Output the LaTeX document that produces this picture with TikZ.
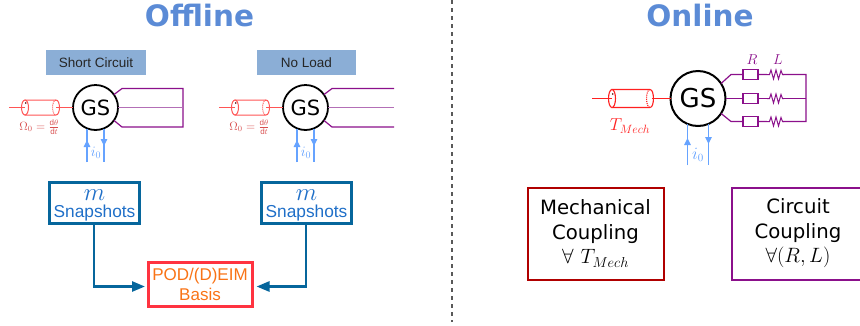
\documentclass[tikz,border=0pt]{standalone}
\usepackage{fontspec}
\usepackage{amsmath}
\setmainfont{Liberation Sans}
\newfontfamily\dejavu{DejaVu Sans}
\usetikzlibrary{arrows.meta}
\definecolor{titleblue}{HTML}{5B8BD6}
\definecolor{labelfill}{HTML}{8BAED6}
\definecolor{currentblue}{HTML}{66A3FF}
\definecolor{cablepurple}{HTML}{8B108B}
\definecolor{midpurple}{HTML}{B36FB6}
\definecolor{shaftred}{HTML}{FF2020}
\definecolor{shaftsoft}{HTML}{FF5555}
\definecolor{omegared}{HTML}{D85050}
\definecolor{boxblue}{HTML}{06669C}
\definecolor{snaptext}{HTML}{1F6FC8}
\definecolor{podred}{HTML}{FF3340}
\definecolor{podorange}{HTML}{F97316}
\definecolor{mechred}{HTML}{B00000}
\tikzset{
  x=1pt,y=-1pt,
  titletext/.style={font=\dejavu\bfseries\fontsize{29.5}{34}\selectfont,text=titleblue,inner sep=0pt,anchor=base},
  casetag/.style={fill=labelfill,minimum width=100pt,minimum height=25pt,inner sep=0pt,font=\fontsize{13.5}{16}\selectfont,text=black!85},
  gssmall/.style={circle,draw=black,line width=1.8pt,minimum size=45pt,inner sep=0pt,outer sep=0pt,fill=white,font=\dejavu\fontsize{21}{24}\selectfont},
  gslarge/.style={circle,draw=black,line width=2pt,minimum size=55pt,inner sep=0pt,outer sep=0pt,fill=white,font=\dejavu\fontsize{26}{30}\selectfont},
  shaft/.style={draw=shaftsoft,line width=1pt},
  shaftstrong/.style={draw=shaftred,line width=1.1pt},
  cable/.style={draw=cablepurple,line width=1.2pt,line join=miter},
  midcable/.style={draw=midpurple,line width=1.6pt},
  currentline/.style={draw=currentblue,line width=1.5pt},
  current/.style={draw=currentblue,line width=1.5pt,-{Triangle[length=7pt,width=6.5pt]}},
  snapbox/.style={draw=boxblue,line width=3pt,minimum width=90pt,minimum height=41pt,inner sep=0pt},
  snapm/.style={text=snaptext,inner sep=0pt,font=\fontsize{30}{30}\selectfont},
  snaptxt/.style={text=snaptext,inner sep=0pt,font=\fontsize{17.3}{17}\selectfont},
  podbox/.style={draw=podred,line width=3pt,minimum width=104pt,minimum height=43.5pt,inner sep=0pt,align=center,text=podorange,font=\fontsize{17}{19.5}\selectfont},
  flow/.style={draw=boxblue,line width=2.6pt,-{Triangle[length=13pt,width=10pt]}},
  couplebox/.style={line width=2pt,inner sep=0pt,align=center,font=\dejavu\fontsize{19.7}{25}\selectfont,text=black},
  resbox/.style={draw=cablepurple,line width=1.2pt,minimum width=15pt,minimum height=10pt,inner sep=0pt,fill=white},
}
\newcommand{\cyl}[5]{% style, left x, right x, centre y, half height
  \draw[#1,fill=white] (#2,#4-#5) -- (#3,#4-#5) .. controls (#3+4.6,#4-#5) and (#3+4.6,#4+#5) .. (#3,#4+#5) -- (#2,#4+#5) -- cycle;
  \draw[#1,densely dotted] (#3,#4-#5) .. controls (#3-4.6,#4-#5) and (#3-4.6,#4+#5) .. (#3,#4+#5);
  \draw[#1,fill=white] (#2,#4) ellipse[x radius=3.5,y radius=#5];
  \fill[black!70!red] (#2+0.8,#4-4.5) circle[radius=0.9];
}
\begin{document}
\begin{tikzpicture}
\useasboundingbox (0,0) rectangle (860,325);
\node[titletext] (toff) at (199.5,26) {Offline};
\node[titletext] (ton) at (700,26) {Online};
\coordinate (divtop) at (452,0);
\coordinate (divbot) at (452,322);
\draw[black!65,line width=1.1pt,dash pattern=on 3.5pt off 4.5pt] (divtop) -- (divbot);

% --- left machines
\node[casetag] (tagA) at (96,62.5) {Short Circuit};
\node[casetag,minimum width=99pt] (tagB) at (306.5,62.5) {No Load};
\foreach \dx/\nm in {0/A,210/B}{
  \begin{scope}[xshift=\dx pt]
    \coordinate (sh\nm) at (9,107.5);
    \coordinate (sl\nm) at (25,107.5);
    \coordinate (sr\nm) at (56,107.5);
    \cyl{shaft}{25}{56}{107.5}{7.5}
    \node[gssmall] (gs\nm) at (95.5,107.5) {GS};
    \draw[shaft] (sh\nm) -- (sl\nm);
    \draw[shaft] (sr\nm) -- (gs\nm.west);
    \node[text=omegared,inner sep=0pt,font=\fontsize{12}{12}\selectfont] (om\nm) at (39.5,127) {$\Omega_0=\frac{\mathrm{d}\theta}{\mathrm{d}t}$};
    \coordinate (ib\nm) at (87,162);
    \coordinate (it\nm) at (104,162);
    \draw[currentline] (ib\nm) -- (87,129);
    \draw[current] (ib\nm) -- (87,140);
    \draw[currentline] (104,129) -- (it\nm);
    \draw[current] (104,129) -- (104,146);
    \node[text=currentblue,inner sep=0pt,font=\fontsize{14}{14}\selectfont] (iz\nm) at (96,153) {$i_0$};
  \end{scope}
}
% purple leads
\coordinate (a1) at (122,88.5);\coordinate (a2) at (183,88.5);
\coordinate (a3) at (122,127);\coordinate (a4) at (183,127);
\coordinate (a5) at (183,107.5);
\draw[cable] (gsA.35) -- (a1) -- (a2) -- (a4) -- (a3) -- (gsA.-35);
\draw[midcable] (gsA.east) -- (a5);
\coordinate (b1) at (332,88.5);\coordinate (b2) at (394,88.5);
\coordinate (b3) at (332,127);\coordinate (b4) at (394,127);
\coordinate (b5) at (394,107.5);
\draw[cable] (gsB.35) -- (b1) -- (b2);
\draw[cable] (gsB.-35) -- (b3) -- (b4);
\draw[midcable] (gsB.east) -- (b5);

% --- snapshots
\node[snapbox] (snapA) at (94,202.5) {};
\node[snapbox] (snapB) at (306,202.5) {};
\node[snapm] (mA) at (94.5,195) {$m$};
\node[snapm] (mB) at (306.5,195) {$m$};
\node[snaptxt] (txA) at (94.5,213) {Snapshots};
\node[snaptxt] (txB) at (306.5,213) {Snapshots};
\node[podbox] (pod) at (200,284.5) {POD/(D)EIM\\Basis};
\coordinate (podL) at (145,286.5);
\coordinate (podR) at (256.5,286.5);
\draw[flow] (snapA.south) |- (podL);
\draw[flow] (snapB.south) |- (podR);

% --- online machine
\coordinate (sh) at (592,98.5);
\coordinate (sl) at (612,98.5);
\coordinate (sr) at (652,98.5);
\cyl{shaftstrong}{612}{650}{98.5}{9}
\node[gslarge] (gs) at (698,98.5) {GS};
\draw[shaftstrong] (sh) -- (sl);
\draw[shaftstrong] (sr) -- (gs.west);
\node[text=shaftred,inner sep=0pt,font=\fontsize{18.5}{18}\selectfont] (tm) at (630,126) {$T_{Mech}$};
\coordinate (ib) at (687.5,165);
\coordinate (it) at (708.5,165);
\draw[currentline] (ib) -- (687.5,124);
\draw[current] (ib) -- (687.5,138);
\draw[currentline] (708.5,124) -- (it);
\draw[current] (708.5,124) -- (708.5,144);
\node[text=currentblue,inner sep=0pt,font=\fontsize{16}{16}\selectfont] (iz) at (698,155) {$i_0$};

\coordinate (nt) at (731,74.5);
\coordinate (nb) at (731,121.5);
\coordinate (endt) at (806,74.5);
\coordinate (endm) at (806,98.5);
\coordinate (endb) at (806,121.5);
\draw[cable] (gs.33) -- (nt) -- (endt) -- (endb) -- (nb) -- (gs.-33);
\draw[cable] (gs.east) -- (endm);
\foreach \yy/\nn in {74.5/t,98.5/m,121.5/b}{
  \node[resbox] (r\nn) at (750.5,\yy) {};
  \fill[white] (767,\yy-4) rectangle (783,\yy+4);
  \draw[cable,line width=1pt] (767,\yy) -- (769.5,\yy) -- (771,\yy-4.5) -- (773.5,\yy+4.5) -- (776,\yy-4.5) -- (778.5,\yy+4.5) -- (781,\yy-4) -- (782.5,\yy) -- (784,\yy);
}
\node[text=cablepurple,inner sep=0pt,font=\fontsize{15}{15}\selectfont] (lR) at (752,60) {$R$};
\node[text=cablepurple,inner sep=0pt,font=\fontsize{15}{15}\selectfont] (lL) at (778,60) {$L$};

% --- coupling boxes
\node[couplebox,draw=mechred,minimum width=136pt,minimum height=92pt] (mech) at (595.5,233.5) {Mechanical\\Coupling\\[-1pt]{\fontsize{22}{22}\selectfont$\forall\ T_{Mech}$}};
\node[couplebox,draw=cablepurple,minimum width=132pt,minimum height=92pt] (circ) at (798,233.5) {Circuit\\Coupling\\[-1pt]{\fontsize{22}{22}\selectfont$\forall(R,L)$}};
\end{tikzpicture}
\end{document}
